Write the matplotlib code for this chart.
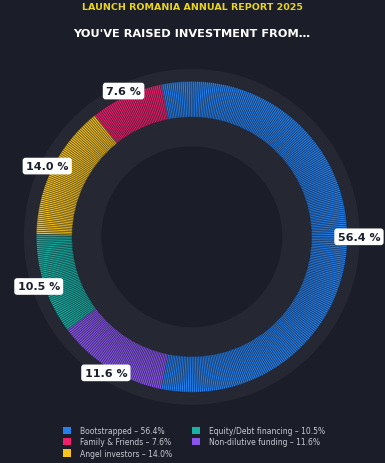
"""Donut chart: where Launch Romania founders raised investment from."""

import matplotlib

matplotlib.use("Agg")

import matplotlib.pyplot as plt
import numpy as np
from matplotlib.patches import Circle

# --- data -----------------------------------------------------------------
CATEGORIES = [
    "Bootstrapped",
    "Family & Friends",
    "Angel investors",
    "Equity/Debt financing",
    "Non-dilutive funding",
]
SHARES = [56.4, 7.6, 14.0, 10.5, 11.6]
COLORS = ["#2680ec", "#f01f6c", "#f8c41c", "#18b1a2", "#8a55ec"]

TITLE_TOP = "LAUNCH ROMANIA ANNUAL REPORT 2025"
TITLE_MAIN = "YOU'VE RAISED INVESTMENT FROM…"

# --- style ----------------------------------------------------------------
BG = "#1b1e29"
HALO = "#252733"
TEXT_DARK = "#1c1f2b"
N_STRIPES = 480

plt.rcParams["font.family"] = "DejaVu Sans"


def main() -> None:
    figure = plt.figure(figsize=(3.85, 4.64), dpi=100, facecolor=BG)
    axis = figure.add_axes([0.0337, 0.1021, 0.929, 0.7708])
    axis.set_facecolor(BG)

    total = float(sum(SHARES))
    start_angle = -SHARES[0] / total * 180.0

    # halo disc behind the ring
    axis.add_patch(Circle((0, 0), 1.08, facecolor=HALO, edgecolor="none", zorder=0))

    wedges, _ = axis.pie(
        SHARES,
        colors=COLORS,
        startangle=start_angle,
        counterclock=True,
        radius=1.0,
        wedgeprops={"width": 0.23, "edgecolor": "none", "zorder": 2},
    )

    # thin radial stripes over the ring
    axis.pie(
        np.ones(N_STRIPES),
        startangle=start_angle,
        radius=1.0,
        wedgeprops={
            "width": 0.23,
            "facecolor": "none",
            "edgecolor": (0.08, 0.09, 0.13, 0.4),
            "linewidth": 0.6,
            "zorder": 3,
        },
    )

    # darker inner disc
    axis.add_patch(Circle((0, 0), 0.582, facecolor=BG, edgecolor="none", zorder=4))

    # percentage labels in white rounded boxes
    label_radii = [1.075, 1.035, 1.035, 1.035, 1.035]
    for wedge, share, radius in zip(wedges, SHARES, label_radii):
        mid = np.deg2rad((wedge.theta1 + wedge.theta2) / 2.0)
        axis.text(
            radius * np.cos(mid),
            radius * np.sin(mid),
            f"{share:.1f} %",
            ha="center",
            va="center",
            fontsize=8,
            fontweight="bold",
            color=TEXT_DARK,
            zorder=6,
            clip_on=False,
            bbox={
                "boxstyle": "round,pad=0.3,rounding_size=0.25",
                "facecolor": "white",
                "edgecolor": "none",
            },
        )

    axis.set_xlim(-1.15, 1.15)
    axis.set_ylim(-1.15, 1.15)
    axis.set_aspect("equal")
    axis.axis("off")

    figure.text(
        0.499,
        1 - 7.7 / 464,
        TITLE_TOP,
        ha="center",
        va="center",
        fontsize=6.8,
        fontweight="bold",
        color="#e9d41e",
    )
    figure.text(
        0.499,
        1 - 34 / 464,
        TITLE_MAIN,
        ha="center",
        va="center",
        fontsize=8.2,
        fontweight="bold",
        color="white",
    )

    legend_labels = [f"{name} – {share:.1f}%" for name, share in zip(CATEGORIES, SHARES)]
    legend = figure.legend(
        wedges,
        legend_labels,
        loc="upper left",
        bbox_to_anchor=(0.163, 0.079),
        ncol=2,
        frameon=False,
        fontsize=5.5,
        handlelength=1.05,
        handleheight=1.05,
        handletextpad=1.2,
        labelspacing=0.28,
        columnspacing=2.55,
        borderpad=0,
        borderaxespad=0,
    )
    for text in legend.get_texts():
        text.set_color("#c9cad3")

    figure.savefig("out.png", dpi=100, facecolor=BG)
    plt.close(figure)


if __name__ == "__main__":
    main()
